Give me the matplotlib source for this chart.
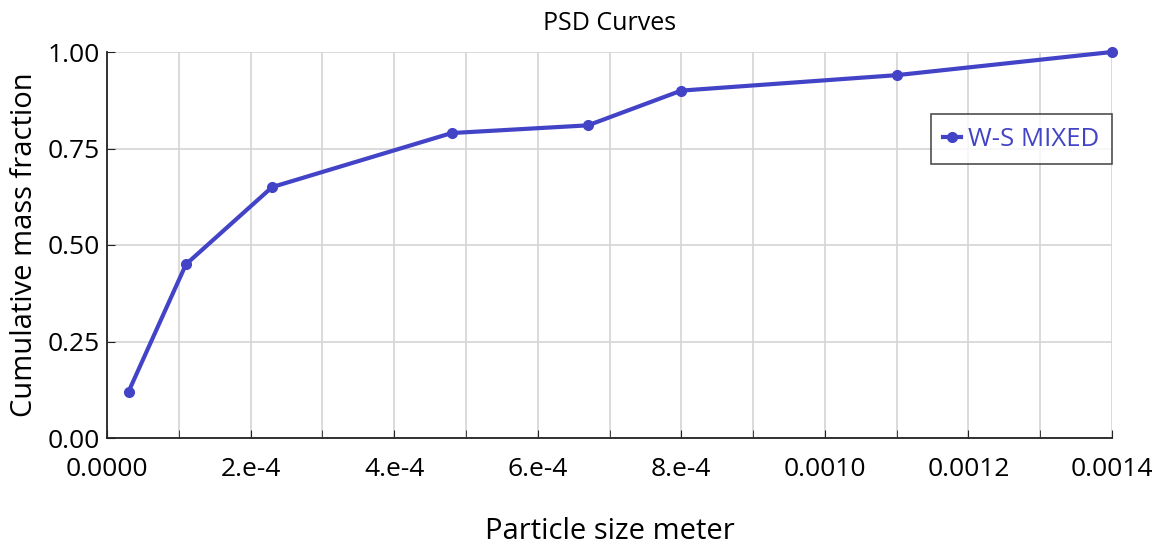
import matplotlib
matplotlib.use("Agg")
import matplotlib.pyplot as plt
from matplotlib.ticker import MultipleLocator, FuncFormatter

plt.rcParams['font.family'] = ['Open Sans', 'DejaVu Sans']

# PSD data
particle_size = [3.0e-5, 1.1e-4, 2.3e-4, 4.8e-4, 6.7e-4, 8.0e-4, 1.1e-3, 1.4e-3]
mass_fraction = [0.12, 0.45, 0.65, 0.79, 0.81, 0.90, 0.94, 1.00]
series_name = "W-S MIXED"
x_tick_labels = {0: "0.0000", 2: "2.e-4", 4: "4.e-4", 6: "6.e-4", 8: "8.e-4",
                 10: "0.0010", 12: "0.0012", 14: "0.0014"}

line_color = '#4343c8'

fig = plt.figure(figsize=(11.65, 5.48), dpi=100)
ax = fig.add_axes([107 / 1165, 1 - 438 / 548, 1005 / 1165, 386 / 548])

ax.plot(particle_size, mass_fraction, color=line_color, lw=3, marker='o',
        ms=7, label=series_name, clip_on=False, zorder=3)

ax.set_xlim(0, 0.0014)
ax.set_ylim(0, 1.0)

ax.xaxis.set_major_locator(MultipleLocator(2e-4))
ax.xaxis.set_minor_locator(MultipleLocator(1e-4))
ax.yaxis.set_major_locator(MultipleLocator(0.25))
ax.xaxis.set_major_formatter(FuncFormatter(
    lambda v, p: x_tick_labels.get(int(round(v * 1e4)), "")))
ax.yaxis.set_major_formatter(FuncFormatter(lambda v, p: f"{v:.2f}"))

ax.grid(True, which='both', color='#d4d4d4', lw=1.2)
ax.set_axisbelow(True)

for s in ['top', 'right']:
    ax.spines[s].set_visible(False)
for s in ['left', 'bottom']:
    ax.spines[s].set_color('#222222')
    ax.spines[s].set_linewidth(1.3)

ax.tick_params(axis='both', which='both', direction='in', labelsize=19,
               colors='#222222', labelcolor='black')
ax.tick_params(axis='both', which='major', length=6)
ax.tick_params(axis='x', which='major', pad=14)
ax.tick_params(axis='y', which='major', pad=5)
ax.tick_params(axis='x', which='minor', length=6)

ax.set_title("PSD Curves", fontsize=18, pad=16)
ax.set_xlabel("Particle size meter", fontsize=21, labelpad=25)
ax.set_ylabel("Cumulative mass fraction", fontsize=21, labelpad=6)

leg = ax.legend(loc='upper right', bbox_to_anchor=(1.0, 0.84), fontsize=18.5,
                frameon=True, fancybox=False, handlelength=0.7,
                handletextpad=0.25, borderpad=0.5, borderaxespad=0)
leg.get_frame().set_edgecolor('#222222')
leg.get_frame().set_linewidth(1.2)
for t in leg.get_texts():
    t.set_color(line_color)

fig.savefig("out.png", dpi=100)
